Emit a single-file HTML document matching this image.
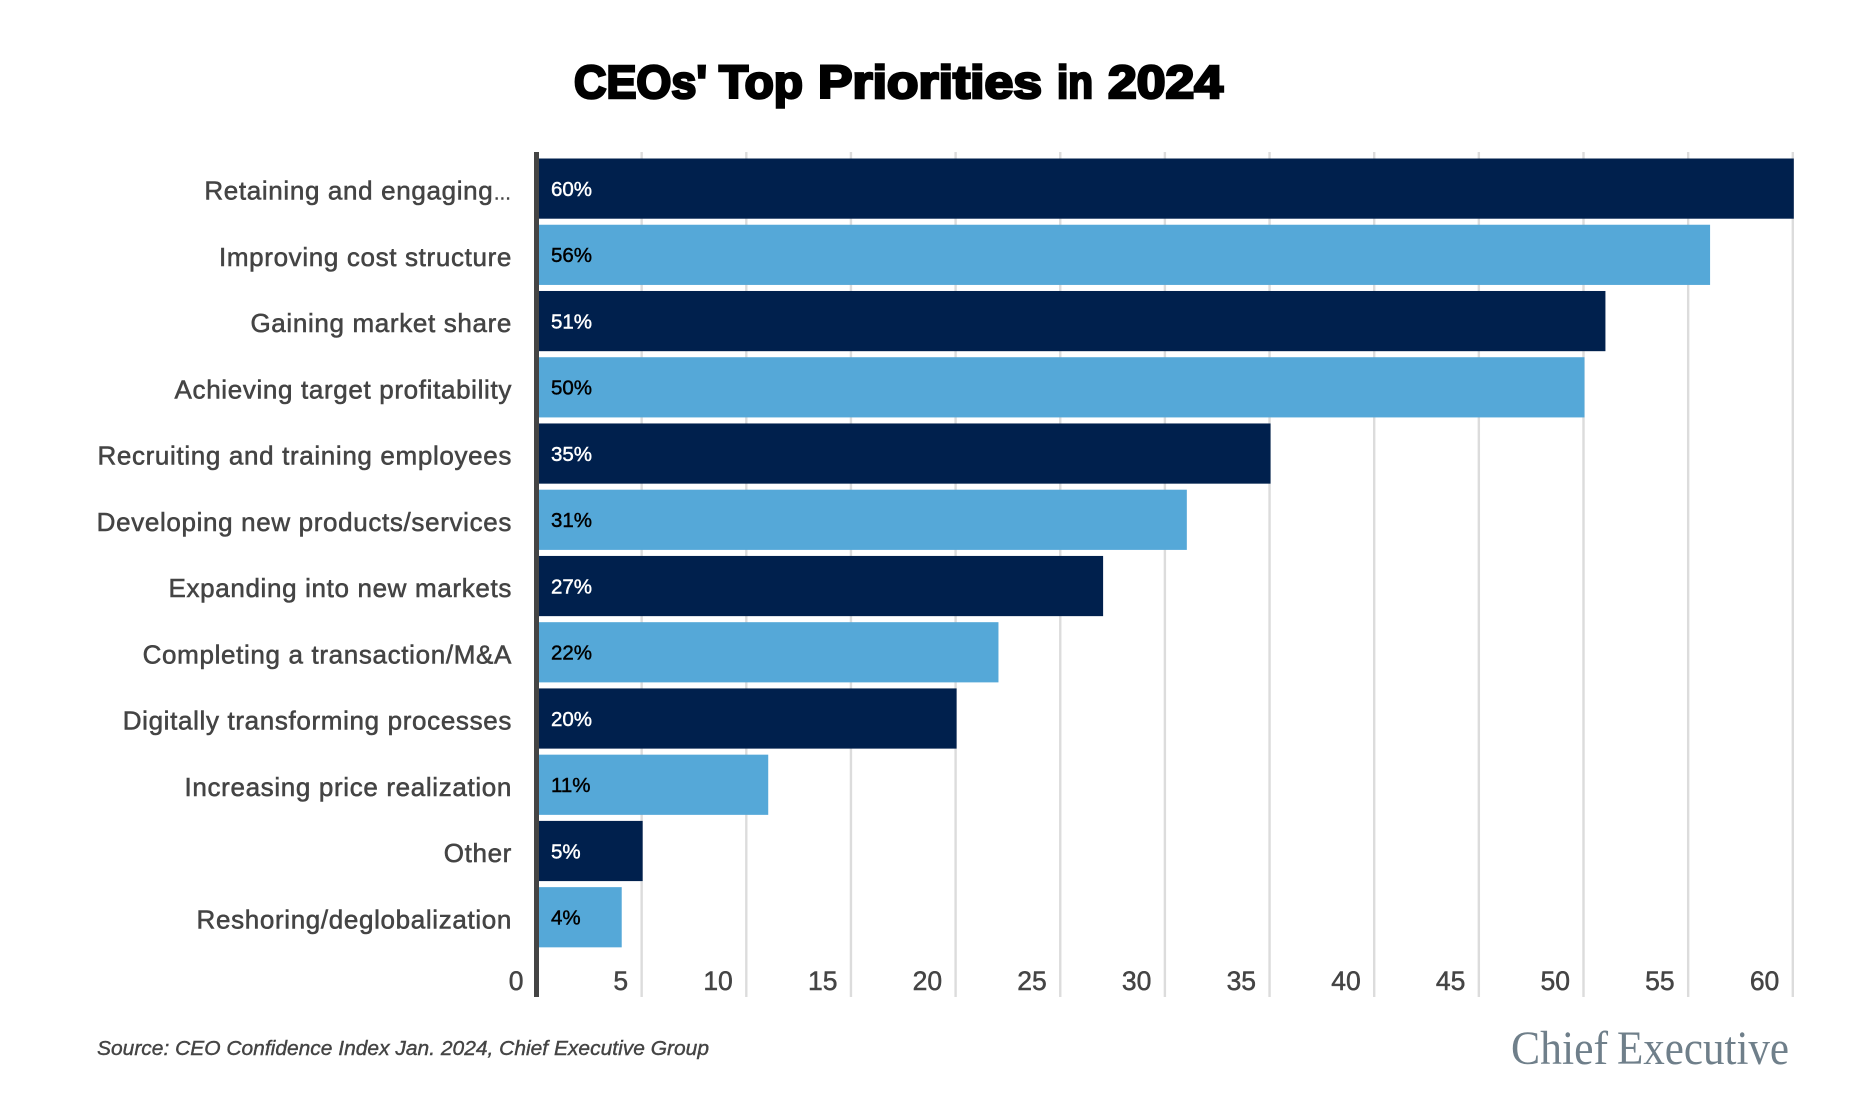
<!DOCTYPE html>
<html lang="en">
<head>
<meta charset="utf-8">
<title>CEOs' Top Priorities in 2024</title>
<style>
html,body{margin:0;padding:0;background:#fff;width:1852px;height:1114px;overflow:hidden}
svg{display:block;font-family:"Liberation Sans",sans-serif}
.cat{font-size:26px;fill:#444;stroke:#444;stroke-width:.55px;text-anchor:end;letter-spacing:.65px}
.tick{font-size:26.5px;fill:#444;stroke:#444;stroke-width:.5px;text-anchor:end}
.val{font-size:20.5px;stroke-width:.45px}
</style>
</head>
<body>
<svg id="chart" width="1852" height="1114" viewBox="0 0 1852 1114" xmlns="http://www.w3.org/2000/svg">
  <text y="98" font-size="46" font-weight="700" fill="#000" stroke="#000" stroke-width="2.6"><tspan x="574" textLength="133" lengthAdjust="spacingAndGlyphs">CEOs'</tspan> <tspan x="719" textLength="84" lengthAdjust="spacingAndGlyphs">Top</tspan> <tspan x="818" textLength="224" lengthAdjust="spacingAndGlyphs">Priorities</tspan> <tspan x="1057" textLength="36" lengthAdjust="spacingAndGlyphs">in</tspan> <tspan x="1108" textLength="115" lengthAdjust="spacingAndGlyphs">2024</tspan></text>
  <g id="grid"></g>
  <g id="bars"></g>
  <rect x="534" y="152" width="5" height="845" fill="#444"></rect>
  <g id="cats"></g>
  <g id="vals"></g>
  <g id="ticks"></g>
  <text x="97" y="1055" font-size="20.5" font-style="italic" fill="#444" stroke="#444" stroke-width=".4" textLength="612" lengthAdjust="spacingAndGlyphs">Source: CEO Confidence Index Jan. 2024, Chief Executive Group</text>
  <text y="1064" font-size="48" fill="#6f7f8a" style="font-family:'Liberation Serif',serif"><tspan x="1511" textLength="97" lengthAdjust="spacingAndGlyphs">Chief</tspan> <tspan x="1617" textLength="172" lengthAdjust="spacingAndGlyphs">Executive</tspan></text>
</svg>
<script>
const categories = ["Retaining and engaging…","Improving cost structure","Gaining market share","Achieving target profitability","Recruiting and training employees","Developing new products/services","Expanding into new markets","Completing a transaction/M&A","Digitally transforming processes","Increasing price realization","Other","Reshoring/deglobalization"];
const seriesValues = [60,56,51,50,35,31,27,22,20,11,5,4];
const tickValues = [0,5,10,15,20,25,30,35,40,45,50,55,60];

const NS = "http://www.w3.org/2000/svg";
function xScale(v){ return 537 + v * 20.93; }
function yBand(i){ return 158.5 + i * 66.24; }
const BAR_H = 60.2;

function make(tag, attrs, parent, text){
  const el = document.createElementNS(NS, tag);
  for (const k in attrs) el.setAttribute(k, attrs[k]);
  if (text !== undefined) el.textContent = text;
  document.getElementById(parent).appendChild(el);
  return el;
}

tickValues.forEach(function(t){
  if (t > 0) {
    const line = make("rect", {x: xScale(t) - 1.2, y: 152, width: 2.4, height: 845, fill: "#dcdcdc"}, "grid");
    
    
  }
  const label = make("text", {class: "tick", x: xScale(t) - 13.5, y: 990}, "ticks", String(t));
  
  
});

seriesValues.forEach(function(v, i){
  const dark = i % 2 === 0;
  const y = yBand(i);
  const bar = make("rect", {x: 537, y: y, width: xScale(v) - 537 + 1, height: BAR_H, fill: dark ? "#00204d" : "#55a8d8"}, "bars");
  
  
  const name = categories[i];
  const cat = make("text", {class: "cat", x: 512, y: y + 41.2}, "cats");
  
  
  if (name.endsWith("…")) {
    cat.textContent = name.slice(0, -1);
    const dots = document.createElementNS(NS, "tspan");
    dots.setAttribute("font-size", "18");
    dots.textContent = "…";
    cat.appendChild(dots);
  } else {
    cat.textContent = name;
  }
  const colour = dark ? "#fff" : "#000";
  const val = make("text", {class: "val", x: 551, y: y + 37.5, fill: colour, stroke: colour}, "vals", v + "%");
  
  
});
</script>
</body>
</html>
